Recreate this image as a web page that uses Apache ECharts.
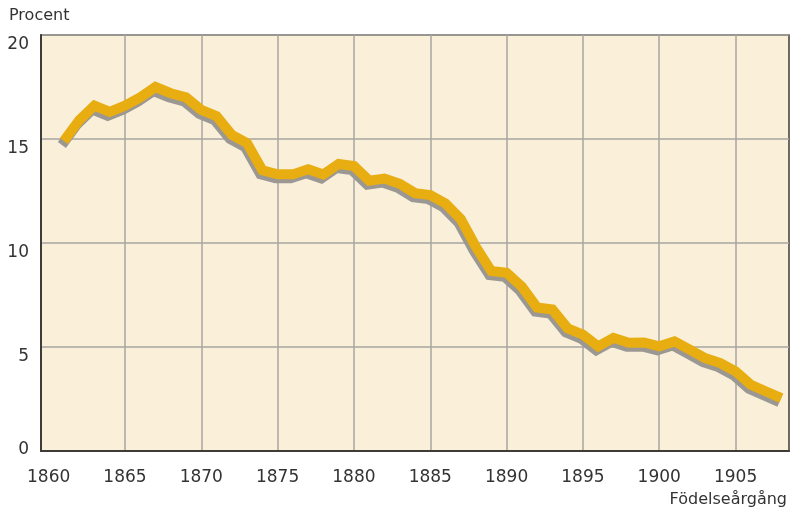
<!DOCTYPE html>
<html>
<head>
<meta charset="utf-8">
<script src="https://cdn.jsdelivr.net/npm/echarts@6/dist/echarts.min.js"></script>
<style>
  html, body { margin: 0; padding: 0; background: #fff; }
  #chart { width: 790px; height: 512px; }
</style>
</head>
<body>
<div id="chart"></div>
<script>
// birth cohorts and share (%)
const years = [
  1861, 1862, 1863, 1864, 1865, 1866, 1867, 1868, 1869, 1870,
  1871, 1872, 1873, 1874, 1875, 1876, 1877, 1878, 1879, 1880,
  1881, 1882, 1883, 1884, 1885, 1886, 1887, 1888, 1889, 1890,
  1891, 1892, 1893, 1894, 1895, 1896, 1897, 1898, 1899, 1900,
  1901, 1902, 1903, 1904, 1905, 1906, 1907, 1908
]
const share = [
  14.9, 15.9, 16.6, 16.3, 16.6, 17.0, 17.5, 17.2, 17.0, 16.4,
  16.1, 15.2, 14.8, 13.5, 13.3, 13.3, 13.55, 13.3, 13.8, 13.7,
  13.0, 13.1, 12.85, 12.4, 12.3, 11.9, 11.15, 9.8, 8.65, 8.57,
  7.9, 6.9, 6.8, 5.9, 5.6, 5.03, 5.44, 5.2, 5.22, 5.03,
  5.27, 4.87, 4.47, 4.23, 3.83, 3.18, 2.86, 2.54
]
const xLabels = [1860, 1865, 1870, 1875, 1880, 1885, 1890, 1895, 1900, 1905]
// no grid line on 1860 in the original
const xGridLines = [1865, 1870, 1875, 1880, 1885, 1890, 1895, 1900, 1905]

const font = 'DejaVu Sans'
const chart = echarts.init(document.getElementById('chart'))

chart.setOption({
  animation: false,
  title: [
    { text: 'Procent', left: 4, top: 3, textStyle: { fontFamily: font, fontSize: 16, fontWeight: 'normal', color: '#333' } },
    { text: 'Födelseårgång', right: -2, top: 487, textStyle: { fontFamily: font, fontSize: 16, fontWeight: 'normal', color: '#333' } }
  ],
  grid: {
    left: 41, top: 35, right: 1, bottom: 61,
    show: true,
    backgroundColor: '#faf0da',
    borderColor: '#3f3b37',
    borderWidth: 1.5
  },
  xAxis: {
    type: 'value',
    min: 1859.5,
    max: 1908.5,
    axisLine: { show: true, lineStyle: { color: '#3f3b37', width: 2 } },
    axisTick: { show: false, customValues: xGridLines },
    axisLabel: {
      customValues: xLabels,
      fontFamily: font, fontSize: 17, color: '#333', margin: 18,
      formatter: v => String(v)
    },
    splitLine: { show: true, lineStyle: { color: '#a9a6a0', width: 1.5 } }
  },
  yAxis: {
    type: 'value',
    min: 0,
    max: 20,
    interval: 5,
    axisLine: { show: true, lineStyle: { color: '#3f3b37', width: 2 } },
    axisTick: { show: false },
    axisLabel: {
      fontFamily: font, fontSize: 17, color: '#333', margin: 12,
      formatter: v => v === 0 ? '{z|0}' : '{n|' + v + '}',
      rich: {
        n: { fontFamily: font, fontSize: 17, color: '#333', padding: [19, 0, 0, 0] },
        z: { fontFamily: font, fontSize: 17, color: '#333', padding: [0, 0, 2, 0] }
      }
    },
    splitLine: { show: true, lineStyle: { color: '#a9a6a0', width: 1.5 } }
  },
  series: [{
    type: 'line',
    data: years.map((y, i) => [y, share[i]]),
    symbol: 'none',
    lineStyle: {
      color: '#e8ad10',
      width: 10,
      join: 'miter',
      shadowColor: '#9b9894',
      shadowBlur: 0,
      shadowOffsetX: -2,
      shadowOffsetY: 4
    }
  }]
})
</script>
</body>
</html>
